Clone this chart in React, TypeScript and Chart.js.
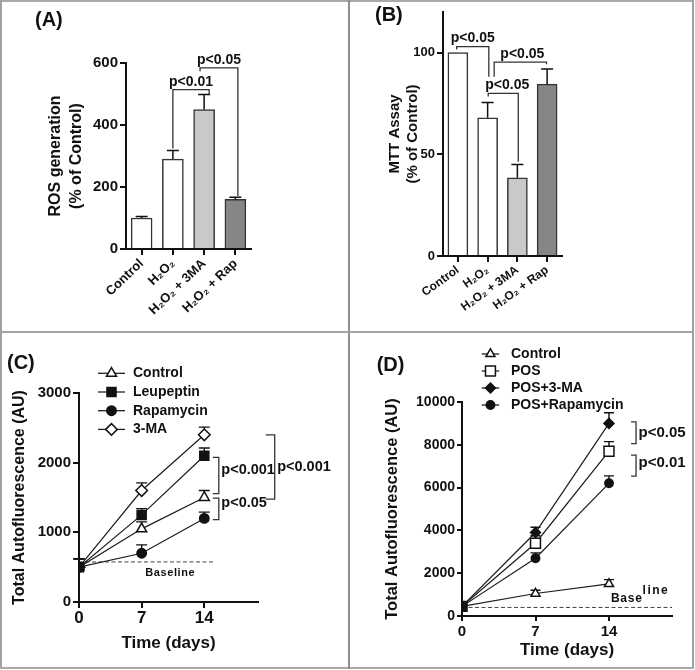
import React, { useEffect, useRef } from 'react';
import { Chart, registerables } from 'chart.js';
import { drawPoint } from 'chart.js/helpers';

Chart.register(...registerables);

const FONT = "'Liberation Sans', Arial, Helvetica, sans-serif";
Chart.defaults.font.family = FONT;
(Chart.defaults.font as any).weight = 'bold';
Chart.defaults.color = '#111';

// ---------------- Data ----------------
const barCategories = ['Control', 'H₂O₂', 'H₂O₂ + 3MA', 'H₂O₂ + Rap'];
const rosMean = [100, 290, 450, 160];
const rosErr = [5, 28, 48, 7];
const mttMean = [100, 68, 38.5, 84.5];
const mttErr = [0, 7.5, 6.5, 7.5];
const barFills = ['#ffffff', '#ffffff', '#c9c9c9', '#868686'];

const ticksA = [0, 200, 400, 600];
const ticksB = [0, 50, 100];
const ticksC = [0, 1000, 2000, 3000];
const ticksD = [0, 2000, 4000, 6000, 8000, 10000];
const dayTicks = [0, 7, 14];

const days = [0, 7, 14];
const cControl = [500, 1050, 1500];
const cControlErr = [120, 100, 100];
const cLeupeptin = [500, 1250, 2100];
const cLeupeptinErr = [120, 90, 110];
const cRapamycin = [500, 700, 1200];
const cRapamycinErr = [120, 120, 90];
const cMA = [500, 1600, 2400];
const cMAErr = [120, 110, 110];
const cBaselineX = [0, 15];
const cBaselineY = [575, 575];

const dControl = [450, 1050, 1500];
const dControlErr = [0, 150, 200];
const dPOS = [450, 3400, 7700];
const dPOSErr = [0, 350, 450];
const dPOS3MA = [450, 3900, 9000];
const dPOS3MAErr = [0, 250, 500];
const dPOSRap = [450, 2700, 6200];
const dPOSRapErr = [0, 250, 350];
const dBaselineX = [0, 20];
const dBaselineY = [400, 400];

// significance annotations (x in category index / days, y in data units)
const bracketsA = [
  { x1: 1.0, x2: 2.16, top: 514, leftEnd: 324, rightEnd: 500, label: 'p<0.01', dx: 0 },
  { x1: 1.87, x2: 3.08, top: 584, leftEnd: 573, rightEnd: 171, label: 'p<0.05', dx: 0 },
];
const bracketsB = [
  { x1: -0.04, x2: 1.04, top: 103, leftEnd: 101.5, rightEnd: 88.2, label: 'p<0.05', dx: 0 },
  { x1: 1.22, x2: 2.98, top: 95.3, leftEnd: 88.2, rightEnd: 94.3, label: 'p<0.05', dx: 2 },
  { x1: 1.02, x2: 2.03, top: 80, leftEnd: 78.4, rightEnd: 46.4, label: 'p<0.05', dx: 4 },
];
const bracketsC = [
  { x: 14.95, w: 6, top: 2075, bottom: 1555, label: 'p<0.001', dy: -6 },
  { x: 14.95, w: 6, top: 1492, bottom: 1181, label: 'p<0.05', dy: -6 },
  { x: 20.86, w: 9, top: 2400, bottom: 1478, label: 'p<0.001', dy: 0 },
];
const bracketsD = [
  { x: 16.1, w: 5, top: 9067, bottom: 8059, label: 'p<0.05', dy: 0 },
  { x: 16.1, w: 5, top: 7513, bottom: 6533, label: 'p<0.01', dy: -3 },
];

// ---------------- Layout ----------------
const PANEL_A = { left: 0, top: 0, width: 349, height: 332 };
const PANEL_B = { left: 349, top: 0, width: 346, height: 332 };
const PANEL_C = { left: 0, top: 332, width: 349, height: 338 };
const PANEL_D = { left: 349, top: 332, width: 346, height: 338 };
const AREA_A = { left: 126, top: 63, right: 251, bottom: 249 };
const AREA_B = { left: 94, top: 12, right: 213, bottom: 256 };
const AREA_C = { left: 79, top: 61, right: 258, bottom: 270 };
const AREA_D = { left: 113, top: 70, right: 323, bottom: 284 };

const INK = '#111111';

const axisLook = (tickLength: number) => ({
  border: { display: true, color: INK, width: 2 },
  grid: { display: true, drawOnChartArea: false, drawTicks: true, tickLength, color: INK, lineWidth: 2 },
});

const setTicks = (vals: number[]) => (scale: any) => {
  scale.ticks = vals.map((v) => ({ value: v }));
};
const plain = (v: any) => String(v);

// ---------------- Plugins ----------------
const errorBars = (errs: (number[] | null)[], cap: number, lw: number, before: boolean) => {
  const draw = (chart: any) => {
    const { ctx } = chart;
    const ys = chart.scales.y;
    ctx.save();
    ctx.strokeStyle = INK;
    ctx.lineWidth = lw;
    errs.forEach((e, di) => {
      if (!e) return;
      const meta = chart.getDatasetMeta(di);
      const ds = chart.data.datasets[di];
      meta.data.forEach((el: any, i: number) => {
        const err = e[i];
        if (!err) return;
        const raw = ds.data[i];
        const v = typeof raw === 'number' ? raw : raw.y;
        const x = el.x;
        const y0 = ys.getPixelForValue(v);
        const y1 = ys.getPixelForValue(v + err);
        ctx.beginPath();
        ctx.moveTo(x, y0);
        ctx.lineTo(x, y1);
        ctx.moveTo(x - cap / 2, y1);
        ctx.lineTo(x + cap / 2, y1);
        ctx.stroke();
      });
    });
    ctx.restore();
  };
  return before ? { id: 'errorBars', beforeDatasetsDraw: draw } : { id: 'errorBars', afterDatasetsDraw: draw };
};

const topBrackets = (items: any[], fontSize: number, lift: number) => ({
  id: 'topBrackets',
  afterDraw(chart: any) {
    const { ctx } = chart;
    const xs = chart.scales.x;
    const ys = chart.scales.y;
    ctx.save();
    ctx.strokeStyle = '#333';
    ctx.lineWidth = 1.3;
    ctx.fillStyle = INK;
    ctx.font = `bold ${fontSize}px ${FONT}`;
    ctx.textAlign = 'center';
    ctx.textBaseline = 'middle';
    items.forEach((b) => {
      const x1 = xs.getPixelForValue(b.x1);
      const x2 = xs.getPixelForValue(b.x2);
      const yt = ys.getPixelForValue(b.top);
      ctx.beginPath();
      ctx.moveTo(x1, ys.getPixelForValue(b.leftEnd));
      ctx.lineTo(x1, yt);
      ctx.lineTo(x2, yt);
      ctx.lineTo(x2, ys.getPixelForValue(b.rightEnd));
      ctx.stroke();
      ctx.fillText(b.label, (x1 + x2) / 2 + (b.dx || 0), yt - lift);
    });
    ctx.restore();
  },
});

const sideBrackets = (items: any[], fontSize: number) => ({
  id: 'sideBrackets',
  afterDraw(chart: any) {
    const { ctx } = chart;
    const xs = chart.scales.x;
    const ys = chart.scales.y;
    ctx.save();
    ctx.strokeStyle = '#333';
    ctx.lineWidth = 1.3;
    ctx.fillStyle = INK;
    ctx.font = `bold ${fontSize}px ${FONT}`;
    ctx.textAlign = 'left';
    ctx.textBaseline = 'middle';
    items.forEach((b) => {
      const x1 = xs.getPixelForValue(b.x);
      const x2 = x1 + b.w;
      const yt = ys.getPixelForValue(b.top);
      const yb = ys.getPixelForValue(b.bottom);
      ctx.beginPath();
      ctx.moveTo(x1, yt);
      ctx.lineTo(x2, yt);
      ctx.lineTo(x2, yb);
      ctx.lineTo(x1, yb);
      ctx.stroke();
      ctx.fillText(b.label, x2 + 2.5, (yt + yb) / 2 + b.dy);
    });
    ctx.restore();
  },
});

// free text: either canvas pixels (x,y) or data coords (xv,yv) + pixel offsets
const textLabels = (items: any[]) => ({
  id: 'textLabels',
  afterDraw(chart: any) {
    const { ctx } = chart;
    items.forEach((t) => {
      ctx.save();
      const x = t.xv !== undefined ? chart.scales.x.getPixelForValue(t.xv) : t.x;
      const y = t.yv !== undefined ? chart.scales.y.getPixelForValue(t.yv) : t.y;
      ctx.font = `bold ${t.size}px ${FONT}`;
      ctx.fillStyle = INK;
      ctx.textAlign = t.align || 'left';
      ctx.textBaseline = 'middle';
      if (t.spacing) (ctx as any).letterSpacing = t.spacing;
      ctx.fillText(t.text, x + (t.dx || 0), y + (t.dy || 0));
      ctx.restore();
    });
  },
});

const lineLegend = (items: any[], o: any) => ({
  id: 'lineLegend',
  afterDraw(chart: any) {
    const { ctx } = chart;
    ctx.save();
    items.forEach((it, i) => {
      const cy = o.y + i * o.rowH;
      ctx.strokeStyle = '#222';
      ctx.lineWidth = 1.3;
      ctx.beginPath();
      ctx.moveTo(o.x, cy);
      ctx.lineTo(o.x + o.lineLen, cy);
      ctx.stroke();
      ctx.fillStyle = it.fill;
      ctx.strokeStyle = INK;
      ctx.lineWidth = 1.5;
      drawPoint(ctx, { pointStyle: it.style, radius: it.radius, rotation: 0, borderWidth: 1.5 } as any, o.x + o.lineLen / 2, cy);
      ctx.fillStyle = INK;
      ctx.font = `bold ${o.size}px ${FONT}`;
      ctx.textAlign = 'left';
      ctx.textBaseline = 'middle';
      ctx.fillText(it.label, o.textX, cy);
    });
    ctx.restore();
  },
});

// ---------------- Chart builders ----------------
const common = (panel: any, area: any) => ({
  animation: false,
  responsive: false,
  maintainAspectRatio: false,
  devicePixelRatio: 1,
  events: [],
  layout: { padding: { left: 0, top: area.top, right: panel.width - area.right, bottom: 0 } },
});

const fitY = (area: any) => (s: any) => { s.width = area.left; };
const fitX = (panel: any, area: any) => (s: any) => { s.height = panel.height - area.bottom; };

function barConfig(panel: any, area: any, values: number[], errs: number[], yTicks: number[], yMax: number,
  titleLines: string[], titleSize: number, titleLH: number, titlePad: number, tickSize: number,
  labelSize: number, rot: number, thickness: number, brackets: any[], letter: any): any {
  return {
    type: 'bar',
    data: {
      labels: barCategories,
      datasets: [{
        data: values,
        backgroundColor: barFills,
        borderColor: '#333',
        borderWidth: 1.5,
        barThickness: thickness,
      }],
    },
    options: {
      ...common(panel, area),
      plugins: { legend: { display: false }, tooltip: { enabled: false } },
      scales: {
        x: {
          type: 'category',
          offset: true,
          ...axisLook(6),
          grid: { ...axisLook(6).grid, offset: false },
          ticks: { font: { size: labelSize, weight: 'bold' }, color: INK, maxRotation: rot, minRotation: rot, autoSkip: false, padding: 1 },
          afterFit: fitX(panel, area),
        },
        y: {
          type: 'linear',
          min: 0,
          max: yMax,
          ...axisLook(6),
          afterBuildTicks: setTicks(yTicks),
          ticks: { font: { size: tickSize, weight: 'bold' }, color: INK, padding: 2, callback: plain },
          title: { display: true, text: titleLines, font: { size: titleSize, weight: 'bold', lineHeight: titleLH }, color: INK, padding: { top: titlePad, bottom: 0 } },
          afterFit: fitY(area),
        },
      },
    },
    plugins: [errorBars([errs], 12, 1.5, false), topBrackets(brackets, 14, 8), textLabels([letter])],
  };
}

const pts = (xs: number[], ys: number[]) => xs.map((x, i) => ({ x, y: ys[i] }));

const lineSeries = (label: string, values: number[], style: string, fill: any, radius: number) => ({
  type: 'line',
  label,
  data: pts(days, values),
  borderColor: '#1c1c1c',
  borderWidth: 1.2,
  pointStyle: style,
  pointRadius: radius,
  pointBackgroundColor: fill,
  pointBorderColor: INK,
  pointBorderWidth: 1.5,
  tension: 0,
});

const baselineSeries = (xs: number[], ys: number[]) => ({
  type: 'line',
  label: 'Baseline',
  data: pts(xs, ys),
  borderColor: '#444',
  borderWidth: 1,
  borderDash: [4, 2.5],
  pointRadius: 0,
  tension: 0,
});

function lineConfig(panel: any, area: any, datasets: any[], errs: any[], yTicks: number[], yMax: number,
  yTitleSize: number, yTitlePad: number, yTickSize: number, xTickSize: number, xTickPad: number,
  xTitleSize: number, xTitlePad: number, tickLen: number, cap: number, extra: any[]): any {
  return {
    type: 'line',
    data: { datasets },
    options: {
      ...common(panel, area),
      plugins: { legend: { display: false }, tooltip: { enabled: false } },
      scales: {
        x: {
          type: 'linear',
          min: 0,
          max: 20,
          ...axisLook(tickLen),
          afterBuildTicks: setTicks(dayTicks),
          ticks: { font: { size: xTickSize, weight: 'bold' }, color: INK, padding: xTickPad, callback: plain },
          title: { display: true, text: 'Time (days)', font: { size: xTitleSize, weight: 'bold', lineHeight: 1.2 }, color: INK, padding: { top: 0, bottom: xTitlePad } },
          afterFit: fitX(panel, area),
        },
        y: {
          type: 'linear',
          min: 0,
          max: yMax,
          ...axisLook(tickLen),
          afterBuildTicks: setTicks(yTicks),
          ticks: { font: { size: yTickSize, weight: 'bold' }, color: INK, padding: 2, callback: plain },
          title: { display: true, text: 'Total Autofluorescence (AU)', font: { size: yTitleSize, weight: 'bold', lineHeight: 1.2 }, color: INK, padding: { top: yTitlePad, bottom: 0 } },
          afterFit: fitY(area),
        },
      },
    },
    plugins: [errorBars(errs, cap, 1.4, true), ...extra],
  };
}

const buildA = () => barConfig(PANEL_A, AREA_A, rosMean, rosErr, ticksA, 600,
  ['ROS generation', '(% of Control)'], 16, 1.3, 45.6, 15, 13, 44, 21, bracketsA,
  { text: '(A)', x: 35, y: 20, size: 20 });

const buildB = () => barConfig(PANEL_B, AREA_B, mttMean, mttErr, ticksB, 120,
  ['MTT Assay', '(% of Control)'], 15, 1.22, 36.8, 13, 12, 36, 20, bracketsB,
  { text: '(B)', x: 26, y: 15, size: 20 });

const buildC = () => lineConfig(PANEL_C, AREA_C,
  [
    lineSeries('Rapamycin', cRapamycin, 'circle', '#111', 4.7),
    lineSeries('Leupeptin', cLeupeptin, 'rect', '#111', 6.4),
    lineSeries('Control', cControl, 'triangle', ['#111', '#fff', '#fff'], 5.8),
    lineSeries('3-MA', cMA, 'rectRot', ['#111', '#fff', '#fff'], 5.8),
    baselineSeries(cBaselineX, cBaselineY),
  ],
  [cRapamycinErr, cLeupeptinErr, cControlErr, cMAErr, null],
  ticksC, 3000, 16, 10.4, 15, 17, 0, 17, 16.5, 6, 11,
  [
    sideBrackets(bracketsC, 14.5),
    lineLegend([
      { label: 'Control', style: 'triangle', fill: '#fff', radius: 5.8 },
      { label: 'Leupeptin', style: 'rect', fill: '#111', radius: 6.4 },
      { label: 'Rapamycin', style: 'circle', fill: '#111', radius: 4.7 },
      { label: '3-MA', style: 'rectRot', fill: '#fff', radius: 5.8 },
    ], { x: 98, y: 41.3, rowH: 18.7, lineLen: 27, textX: 133, size: 14 }),
    textLabels([
      { text: '(C)', x: 7, y: 31.3, size: 20 },
      { text: 'Baseline', xv: 10.2, yv: cBaselineY[0], dy: 11, size: 11, align: 'center', spacing: '0.6px' },
    ]),
  ]);

const buildD = () => lineConfig(PANEL_D, AREA_D,
  [
    lineSeries('POS', dPOS, 'rect', ['#111', '#fff', '#fff'], 7),
    lineSeries('POS+Rapamycin', dPOSRap, 'circle', '#111', 4.2),
    lineSeries('POS+3-MA', dPOS3MA, 'rectRot', '#111', 5),
    lineSeries('Control', dControl, 'triangle', '#fff', 5.2),
    baselineSeries(dBaselineX, dBaselineY),
  ],
  [dPOSErr, dPOSRapErr, dPOS3MAErr, dControlErr, null],
  ticksD, 10000, 16.5, 33.8, 14, 15, 1.5, 17, 9.8, 5, 10,
  [
    sideBrackets(bracketsD, 15),
    lineLegend([
      { label: 'Control', style: 'triangle', fill: '#fff', radius: 5.2 },
      { label: 'POS', style: 'rect', fill: '#fff', radius: 7 },
      { label: 'POS+3-MA', style: 'rectRot', fill: '#111', radius: 5 },
      { label: 'POS+Rapamycin', style: 'circle', fill: '#111', radius: 4.2 },
    ], { x: 132.7, y: 22, rowH: 17, lineLen: 17.5, textX: 162, size: 14 }),
    textLabels([
      { text: '(D)', x: 27.7, y: 33, size: 20 },
      { text: 'Base', xv: 15.7, yv: dBaselineY[0], dy: -9, size: 12, align: 'center', spacing: '0.8px' },
      { text: 'line', xv: 17.2, yv: dBaselineY[0], dy: -16.6, size: 12, align: 'left', spacing: '1.5px' },
    ]),
  ]);

// ---------------- Components ----------------
function ChartCanvas({ panel, build }: { panel: any; build: () => any }) {
  const ref = useRef<HTMLCanvasElement | null>(null);
  useEffect(() => {
    if (!ref.current) return;
    const chart = new Chart(ref.current, build());
    return () => chart.destroy();
  }, []);
  return (
    <canvas
      ref={ref}
      width={panel.width}
      height={panel.height}
      style={{ position: 'absolute', left: panel.left, top: panel.top, width: panel.width, height: panel.height }}
    />
  );
}

const line = (left: number, top: number, width: number, height: number, color: string) => (
  <div style={{ position: 'absolute', left, top, width, height, background: color, zIndex: 2 }} />
);

export default function App() {
  useEffect(() => {
    document.body.style.margin = '0';
  }, []);
  return (
    <div style={{ position: 'absolute', left: 0, top: 0, width: 695, height: 670, background: '#fff', overflow: 'hidden' }}>
      <ChartCanvas panel={PANEL_A} build={buildA} />
      <ChartCanvas panel={PANEL_B} build={buildB} />
      <ChartCanvas panel={PANEL_C} build={buildC} />
      <ChartCanvas panel={PANEL_D} build={buildD} />
      {line(0, 0, 694, 2, '#a9a9a9')}
      {line(0, 0, 2, 669, '#a0a0a0')}
      {line(692, 0, 2, 669, '#a0a0a0')}
      {line(0, 667, 694, 2, '#a9a9a9')}
      {line(348, 0, 2, 669, '#8e8e8e')}
      {line(0, 331, 694, 2, '#a4a4a4')}
    </div>
  );
}
